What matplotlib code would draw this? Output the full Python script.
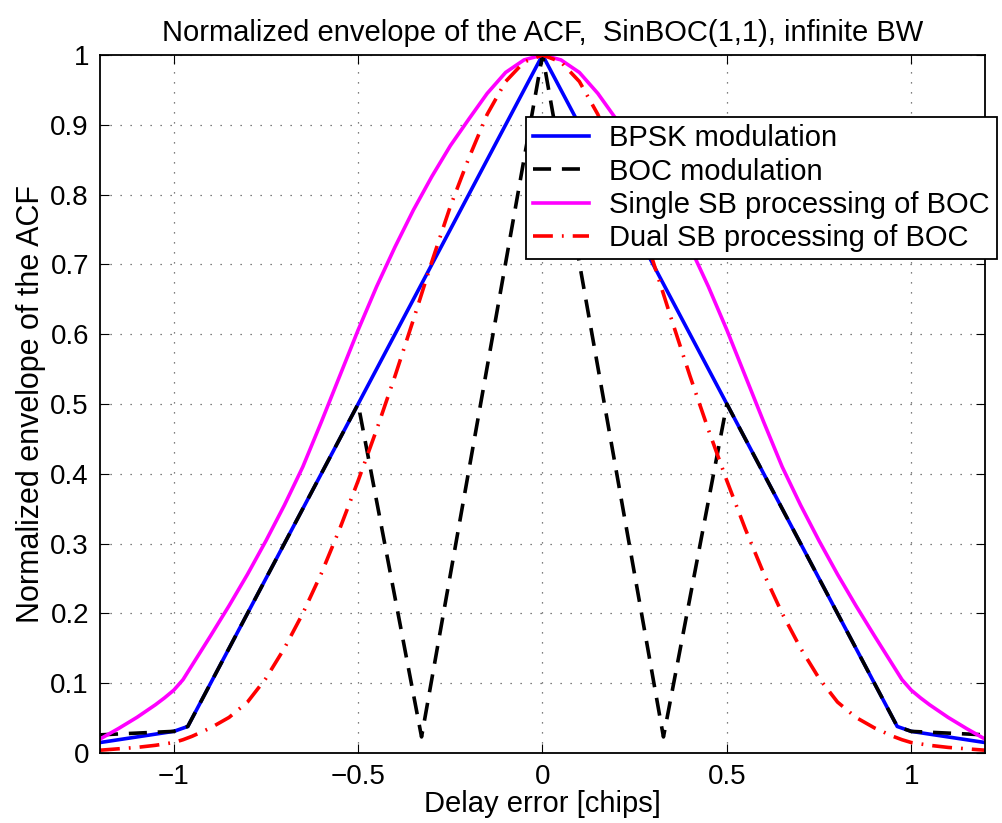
import matplotlib
matplotlib.use("Agg")
import matplotlib.pyplot as plt

# ---- data ----
delay_bpsk = [-1.2, -1.0, -0.962, 0.0, 0.962, 1.0, 1.2]
env_bpsk = [0.015, 0.031, 0.038, 1.0, 0.038, 0.031, 0.015]

delay_boc = [-1.2, -1.0, -0.962, -0.5, -0.328, 0.0, 0.328, 0.5, 0.962, 1.0, 1.2]
env_boc = [0.026, 0.031, 0.038, 0.5, 0.023, 1.0, 0.023, 0.5, 0.038, 0.031, 0.026]

# one half (delay >= 0) of the symmetric single / dual sideband envelopes
half_x = [0.0, 0.05, 0.1, 0.15, 0.2, 0.25, 0.3, 0.35, 0.4, 0.45, 0.5, 0.55, 0.6,
          0.65, 0.7, 0.75, 0.8, 0.85, 0.9, 0.95, 0.975, 1.0, 1.025, 1.05, 1.1,
          1.15, 1.2]
half_ssb_y = [1.0, 0.993, 0.975, 0.945, 0.908, 0.87, 0.826, 0.778, 0.725, 0.668,
              0.606, 0.54, 0.474, 0.41, 0.355, 0.304, 0.256, 0.211, 0.168, 0.126,
              0.105, 0.09, 0.079, 0.069, 0.051, 0.035, 0.02]
half_dsb_y = [1.0, 0.99, 0.962, 0.915, 0.852, 0.783, 0.704, 0.621, 0.54, 0.463,
              0.39, 0.321, 0.257, 0.2, 0.15, 0.107, 0.073, 0.051, 0.036, 0.024,
              0.019, 0.015, 0.013, 0.011, 0.008, 0.006, 0.004]

xticks = [-1, -0.5, 0, 0.5, 1]
xticklabels = ["\u22121", "\u22120.5", "0", "0.5", "1"]
yticks = [0, 0.1, 0.2, 0.3, 0.4, 0.5, 0.6, 0.7, 0.8, 0.9, 1]
yticklabels = ["0", "0.1", "0.2", "0.3", "0.4", "0.5", "0.6", "0.7", "0.8", "0.9", "1"]

labels = ["BPSK modulation", "BOC modulation",
          "Single SB processing of BOC", "Dual SB processing of BOC"]
title = "Normalized envelope of the ACF,  SinBOC(1,1), infinite BW"
xlabel = "Delay error [chips]"
ylabel = "Normalized envelope of the ACF"

# mirror the halves to build the symmetric curves
delay_sym = [-v for v in half_x[::-1]] + half_x[1:]
env_ssb = half_ssb_y[::-1] + half_ssb_y[1:]
env_dsb = half_dsb_y[::-1] + half_dsb_y[1:]

plt.rcParams["font.family"] = ["Liberation Sans", "DejaVu Sans"]

fig = plt.figure(figsize=(10.03, 8.23), dpi=100)
ax = fig.add_axes([100 / 1003, 1 - 753 / 823, 885 / 1003, 698 / 823])

lw = 2.6
ax.plot(delay_bpsk, env_bpsk, color="#0000FF", lw=lw, label=labels[0])
ax.plot(delay_boc, env_boc, color="black", lw=lw, ls=(0, (5.0, 3.0)), label=labels[1])
ax.plot(delay_sym, env_ssb, color="#FF00FF", lw=lw, label=labels[2])
ax.plot(delay_sym, env_dsb, color="#FF0000", lw=lw, ls=(0, (5.5, 2.5, 0.5, 2.5)), label=labels[3])

ax.set_xlim(-1.2, 1.2)
ax.set_ylim(0, 1)
ax.set_xticks(xticks)
ax.set_xticklabels(xticklabels, fontsize=20)
ax.set_yticks(yticks)
ax.set_yticklabels(yticklabels, fontsize=20)
ax.tick_params(direction="in", length=6.5, width=0.8, top=True, right=True, pad=8)
ax.grid(True, color="#555555", ls=(0, (1, 7)), lw=0.9)
for s in ax.spines.values():
    s.set_linewidth(1.3)

ax.set_title(title, fontsize=21, pad=10)
ax.set_xlabel(xlabel, fontsize=21, labelpad=0)
ax.set_ylabel(ylabel, fontsize=22, labelpad=3)

leg = ax.legend(loc="upper left", bbox_to_anchor=(526 / 1003, 1 - 117 / 823),
                bbox_transform=fig.transFigure, fontsize=21, frameon=True,
                fancybox=False, edgecolor="black", framealpha=1,
                borderpad=0.25, labelspacing=0.18, handlelength=1.9,
                handletextpad=0.7, borderaxespad=0)
leg.get_frame().set_linewidth(1.3)

fig.savefig("out.png", dpi=100)
